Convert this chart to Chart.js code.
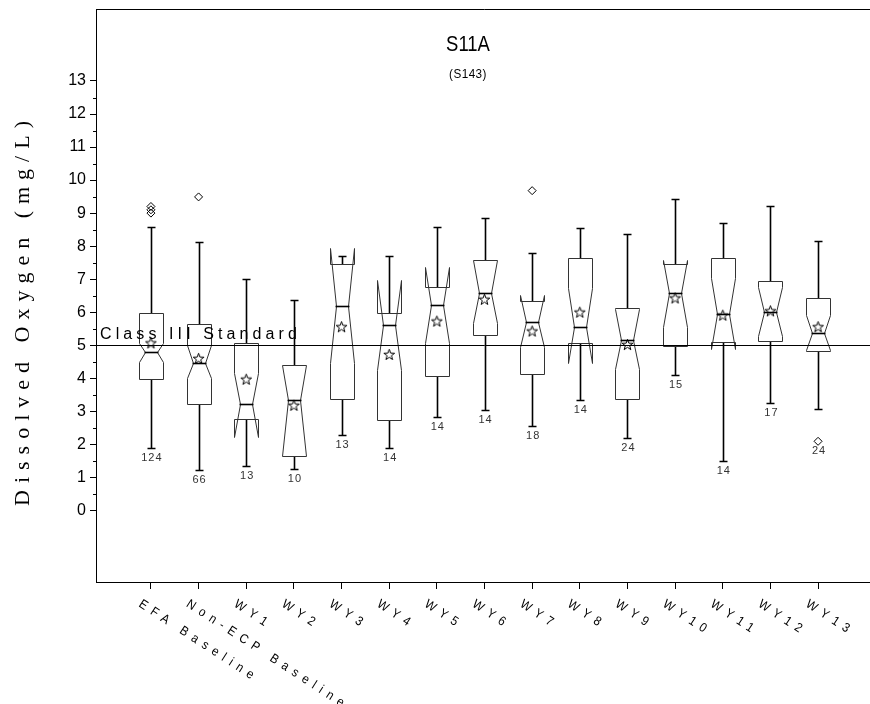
<!DOCTYPE html>
<html>
<head>
<meta charset="utf-8">
<title>S11A Dissolved Oxygen</title>
<script src="https://cdn.jsdelivr.net/npm/chart.js@4.4.1/dist/chart.umd.min.js"></script>
<style>
  html, body { margin: 0; padding: 0; overflow: hidden; background: #fff; }
  canvas { display: block; }
</style>
</head>
<body>
<canvas id="chart" width="880" height="704"></canvas>
<script>
// Period groups along the x axis
const groups = ['EFA Baseline', 'Non-ECP Baseline', 'WY1', 'WY2', 'WY3', 'WY4', 'WY5',
                'WY6', 'WY7', 'WY8', 'WY9', 'WY10', 'WY11', 'WY12', 'WY13'];

// Box statistics per group (mg/L)
const whiskerLow  = [1.89, 1.21, 1.34, 1.26, 2.27, 1.89, 2.82, 3.03, 2.56, 3.33, 2.20, 4.09, 1.48, 3.26, 3.08];
const quartile1   = [3.99, 3.23, 2.78, 1.64, 3.38, 2.73, 4.06, 5.30, 4.12, 5.08, 3.38, 4.97, 5.10, 5.13, 4.82];
const medians     = [4.80, 4.46, 3.23, 3.33, 6.18, 5.61, 6.23, 6.59, 5.71, 5.56, 5.17, 6.57, 5.95, 6.01, 5.37];
const quartile3   = [5.96, 5.63, 5.08, 4.41, 7.45, 5.96, 6.77, 7.59, 6.34, 7.65, 6.14, 7.45, 7.64, 6.94, 6.44];
const whiskerHigh = [8.58, 8.13, 6.99, 6.36, 7.71, 7.71, 8.59, 8.84, 7.78, 8.56, 8.36, 9.42, 8.69, 9.21, 8.15];
const means       = [5.07, 4.60, 3.97, 3.18, 5.56, 4.72, 5.73, 6.39, 5.43, 6.00, 5.02, 6.43, 5.91, 6.04, 5.56];
const notchLow    = [4.49, 4.00, 2.22, 1.64, 4.46, 4.26, 5.07, 5.66, 4.95, 4.46, 4.29, 5.55, 4.88, 5.27, 4.84];
const notchHigh   = [5.07, 5.00, 4.16, 4.41, 7.95, 6.97, 7.37, 7.59, 6.53, 6.72, 6.10, 7.59, 7.02, 6.77, 5.92];
const counts      = [124, 66, 13, 10, 13, 14, 14, 14, 18, 14, 24, 15, 14, 17, 24];
const outliers    = [[9.0, 9.1, 9.2], [9.49], [], [], [], [], [], [], [9.68], [], [], [], [], [], [2.09]];

// Water-quality criterion line
const standardValue = 5;
const standardLabel = 'Class III Standard';

// Y axis labelled ticks
const yTickValues = [0, 1, 2, 3, 4, 5, 6, 7, 8, 9, 10, 11, 12, 13];

const titleText = 'S11A';
const subtitleText = '(S143)';
const yTitleText = 'Dissolved Oxygen (mg/L)';

// Box width in category units
const BOX_WIDTH = 0.5;
const CAP_WIDTH = 0.17;

// Outlined five-point star used as the mean marker
function makeStar() {
  const c = document.createElement('canvas');
  c.width = 13; c.height = 13;
  const g = c.getContext('2d');
  g.beginPath();
  for (let k = 0; k < 10; k++) {
    const r = k % 2 ? 2.3 : 5.7;
    const ang = -Math.PI / 2 + k * Math.PI / 5;
    g.lineTo(6.5 + r * Math.cos(ang), 7 + r * Math.sin(ang));
  }
  g.closePath();
  g.strokeStyle = '#000';
  g.lineWidth = 1;
  g.stroke();
  return c;
}

const meanPoints = means.map((v, i) => ({ x: i + 1, y: v }));
const outlierPoints = [];
outliers.forEach((list, i) => list.forEach(v => outlierPoints.push({ x: i + 1, y: v })));

const crisp = v => Math.round(v) + 0.5;

const notchedBoxes = {
  id: 'notchedBoxes',
  beforeDatasetsDraw(chart) {
    const { ctx, chartArea: a, scales: { x, y } } = chart;
    ctx.save();

    // frame: top and right edges
    ctx.strokeStyle = '#000';
    ctx.lineWidth = 1;
    ctx.beginPath();
    ctx.moveTo(a.left, crisp(a.top));
    ctx.lineTo(crisp(a.right), crisp(a.top));
    ctx.lineTo(crisp(a.right), a.bottom);
    ctx.stroke();

    groups.forEach((g, i) => {
      const cx = crisp(x.getPixelForValue(i + 1));
      const hw = Math.round(x.getPixelForValue(i + 1 + BOX_WIDTH / 2) - x.getPixelForValue(i + 1));
      const cap = Math.round(x.getPixelForValue(i + 1 + CAP_WIDTH / 2) - x.getPixelForValue(i + 1));
      const ind = Math.round(hw / 2);
      const L = cx - hw, R = cx + hw;
      const yQ1 = crisp(y.getPixelForValue(quartile1[i]));
      const yQ3 = crisp(y.getPixelForValue(quartile3[i]));
      const yMed = crisp(y.getPixelForValue(medians[i]));
      const yNl = crisp(y.getPixelForValue(notchLow[i]));
      const yNh = crisp(y.getPixelForValue(notchHigh[i]));
      const yWl = crisp(y.getPixelForValue(whiskerLow[i]));
      const yWh = crisp(y.getPixelForValue(whiskerHigh[i]));

      // whiskers and caps
      ctx.strokeStyle = '#000';
      ctx.lineWidth = 1.6;
      ctx.beginPath();
      ctx.moveTo(cx, yQ3); ctx.lineTo(cx, yWh);
      ctx.moveTo(cx - cap, yWh); ctx.lineTo(cx + cap, yWh);
      ctx.moveTo(cx, yQ1); ctx.lineTo(cx, yWl);
      ctx.moveTo(cx - cap, yWl); ctx.lineTo(cx + cap, yWl);
      ctx.stroke();

      // notched box outline
      ctx.strokeStyle = '#333';
      ctx.lineWidth = 1;
      ctx.fillStyle = '#fff';
      ctx.beginPath();
      ctx.moveTo(L, yQ3);
      ctx.lineTo(L, yNh);
      ctx.lineTo(L + ind, yMed);
      ctx.lineTo(L, yNl);
      ctx.lineTo(L, yQ1);
      ctx.lineTo(R, yQ1);
      ctx.lineTo(R, yNl);
      ctx.lineTo(R - ind, yMed);
      ctx.lineTo(R, yNh);
      ctx.lineTo(R, yQ3);
      ctx.closePath();
      ctx.fill();
      ctx.stroke();

      // median
      ctx.strokeStyle = '#000';
      ctx.lineWidth = 1.6;
      ctx.beginPath();
      ctx.moveTo(L + ind - 1, yMed);
      ctx.lineTo(R - ind + 1, yMed);
      ctx.stroke();
    });

    // criterion line across the plot
    const ys = crisp(y.getPixelForValue(standardValue));
    ctx.strokeStyle = '#000';
    ctx.lineWidth = 1;
    ctx.beginPath();
    ctx.moveTo(a.left, ys);
    ctx.lineTo(a.right, ys);
    ctx.stroke();

    ctx.fillStyle = '#000';
    ctx.font = '16px "Liberation Sans", Arial, sans-serif';
    ctx.letterSpacing = '4.1px';
    ctx.textAlign = 'left';
    ctx.textBaseline = 'alphabetic';
    ctx.fillText(standardLabel, a.left + 4, ys - 7);
    ctx.restore();
  },
  afterDraw(chart) {
    const { ctx, chartArea: a, scales: { x, y } } = chart;
    ctx.save();

    // sample counts beneath each group
    ctx.fillStyle = '#333';
    ctx.font = '11px "Liberation Sans", Arial, sans-serif';
    ctx.letterSpacing = '1px';
    ctx.textAlign = 'center';
    ctx.textBaseline = 'middle';
    groups.forEach((g, i) => {
      const lows = [whiskerLow[i], ...outliers[i]];
      const py = y.getPixelForValue(Math.min(...lows));
      ctx.fillText(String(counts[i]), x.getPixelForValue(i + 1) + 1, py + 10);
    });

    // titles inside the frame (condensed)
    const mid = 468;
    ctx.fillStyle = '#000';
    ctx.textBaseline = 'alphabetic';
    ctx.save();
    ctx.translate(mid, 51);
    ctx.scale(0.84, 1);
    ctx.letterSpacing = '0px';
    ctx.font = '22px "Liberation Sans", Arial, sans-serif';
    ctx.fillText(titleText, 0, 0);
    ctx.restore();
    ctx.save();
    ctx.translate(mid, 78);
    ctx.scale(0.9, 1);
    ctx.font = '13px "Liberation Sans", Arial, sans-serif';
    ctx.letterSpacing = '0.5px';
    ctx.fillText(subtitleText, 0, 0);
    ctx.restore();

    // y axis title
    ctx.save();
    ctx.translate(23, 310);
    ctx.rotate(-Math.PI / 2);
    ctx.font = '22px "Liberation Serif", "Times New Roman", serif';
    ctx.letterSpacing = '7px';
    ctx.textAlign = 'center';
    ctx.textBaseline = 'middle';
    ctx.fillText(yTitleText, 0, 0);
    ctx.restore();

    // slanted group labels
    ctx.font = '13px "Liberation Sans", Arial, sans-serif';
    ctx.letterSpacing = '6.5px';
    ctx.textAlign = 'left';
    ctx.textBaseline = 'alphabetic';
    ctx.fillStyle = '#000';
    groups.forEach((g, i) => {
      const px = x.getPixelForValue(i + 1);
      ctx.save();
      ctx.translate(px - 13, a.bottom + 24);
      ctx.rotate(33 * Math.PI / 180);
      ctx.scale(0.9, 1);
      ctx.fillText(g, 0, 0);
      ctx.restore();
    });
    ctx.restore();
  }
};

new Chart(document.getElementById('chart'), {
  type: 'scatter',
  data: {
    datasets: [
      {
        label: 'Mean',
        data: meanPoints,
        pointStyle: makeStar(),
        pointRadius: 6,
        showLine: false
      },
      {
        label: 'Outliers',
        data: outlierPoints,
        pointStyle: 'rectRot',
        pointRadius: 4,
        borderColor: '#000',
        backgroundColor: 'rgba(0,0,0,0)',
        borderWidth: 1,
        showLine: false
      }
    ]
  },
  options: {
    responsive: false,
    animation: false,
    events: [],
    layout: { padding: { left: 36, top: 9, right: 6, bottom: 0 } },
    plugins: {
      legend: { display: false },
      tooltip: { enabled: false },
      title: { display: false }
    },
    scales: {
      x: {
        type: 'linear',
        min: -0.1527,
        max: 16.1527,
        afterBuildTicks(scale) {
          scale.ticks = groups.map((g, i) => ({ value: i + 1 }));
        },
        afterFit(scale) {
          scale.height = 122;
          scale.paddingLeft = 0; scale.paddingRight = 0;
        },
        ticks: { display: false },
        grid: { drawOnChartArea: false, drawTicks: true, tickLength: 7, tickColor: '#000', tickWidth: 1 },
        border: { display: true, color: '#000', width: 1 }
      },
      y: {
        type: 'linear',
        min: -2.17,
        max: 15.18,
        afterBuildTicks(scale) {
          scale.ticks = yTickValues.map(v => ({ value: v }));
        },
        afterFit(scale) {
          scale.width = 60;
          scale.paddingTop = 0; scale.paddingBottom = 0;
        },
        ticks: {
          color: '#000',
          padding: 4,
          font: { family: '"Liberation Sans", Arial, sans-serif', size: 16 }
        },
        grid: { drawOnChartArea: false, drawTicks: true, tickLength: 6, tickColor: '#000', tickWidth: 1 },
        border: { display: true, color: '#000', width: 1 }
      }
    }
  },
  plugins: [notchedBoxes, {
    id: 'minorTicks',
    afterDraw(chart) {
      const { ctx, chartArea: a, scales: { y } } = chart;
      ctx.save();
      ctx.strokeStyle = '#000';
      ctx.lineWidth = 1;
      ctx.beginPath();
      yTickValues.forEach(v => {
        const py = Math.round(y.getPixelForValue(v + 0.5)) + 0.5;
        if (v + 0.5 < 13.5) {
          ctx.moveTo(a.left - 3, py);
          ctx.lineTo(a.left, py);
        }
      });
      ctx.stroke();
      ctx.restore();
    }
  }]
});
</script>
</body>
</html>
